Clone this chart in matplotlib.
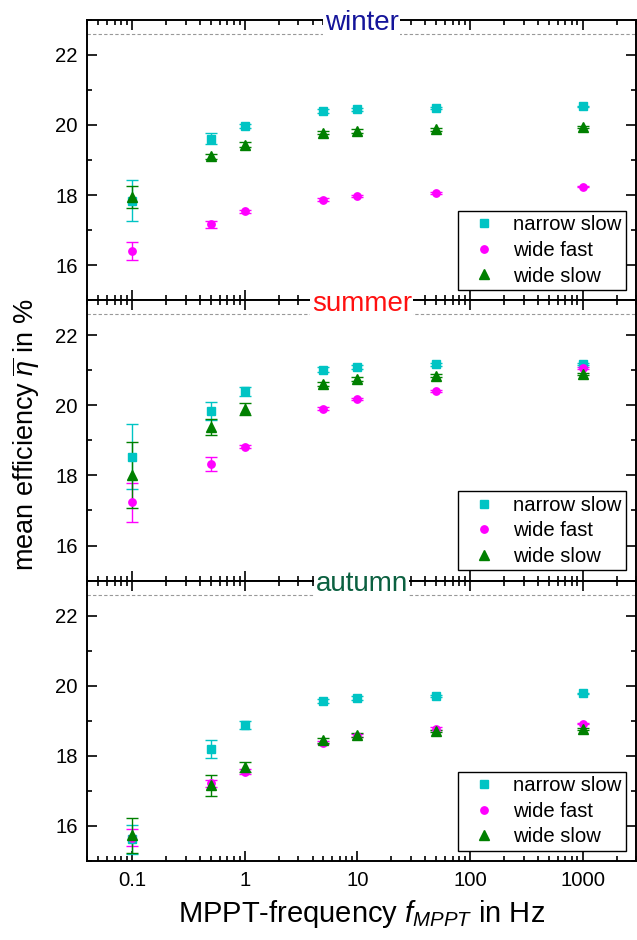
import matplotlib
matplotlib.use("Agg")
import matplotlib.pyplot as plt
from matplotlib.ticker import LogLocator, FixedLocator, NullFormatter
from matplotlib.lines import Line2D

plt.rcParams['font.family'] = ['Liberation Sans', 'DejaVu Sans']
plt.rcParams['mathtext.fontset'] = 'custom'
plt.rcParams['mathtext.rm'] = 'Liberation Sans'
plt.rcParams['mathtext.it'] = 'Liberation Sans:italic'

# MPPT frequencies in Hz
freq = [0.1, 0.5, 1, 5, 10, 50, 1000]

seasons = ["winter", "summer", "autumn"]
season_colors = ["#14149a", "#ff1010", "#0b6040"]

# mean efficiency in % and its error, per season
winter_narrow_slow = [17.84, 19.61, 19.96, 20.39, 20.45, 20.48, 20.53]
winter_narrow_slow_err = [0.58, 0.15, 0.06, 0.05, 0.04, 0.04, 0.02]
winter_wide_fast = [16.41, 17.16, 17.53, 17.87, 17.97, 18.07, 18.24]
winter_wide_fast_err = [0.26, 0.10, 0.05, 0.04, 0.03, 0.03, 0.02]
winter_wide_slow = [17.94, 19.11, 19.44, 19.78, 19.83, 19.88, 19.94]
winter_wide_slow_err = [0.31, 0.07, 0.06, 0.05, 0.05, 0.04, 0.02]

summer_narrow_slow = [18.53, 19.84, 20.40, 21.02, 21.10, 21.17, 21.19]
summer_narrow_slow_err = [0.93, 0.25, 0.13, 0.06, 0.06, 0.05, 0.03]
summer_wide_fast = [17.23, 18.33, 18.82, 19.90, 20.18, 20.41, 21.06]
summer_wide_fast_err = [0.56, 0.21, 0.04, 0.04, 0.04, 0.04, 0.02]
summer_wide_slow = [18.00, 19.38, 19.89, 20.61, 20.75, 20.85, 20.90]
summer_wide_slow_err = [0.94, 0.24, 0.17, 0.06, 0.05, 0.04, 0.03]

autumn_narrow_slow = [15.62, 18.20, 18.88, 19.56, 19.65, 19.71, 19.78]
autumn_narrow_slow_err = [0.41, 0.25, 0.12, 0.05, 0.05, 0.04, 0.02]
autumn_wide_fast = [15.67, 17.22, 17.55, 18.38, 18.58, 18.78, 18.92]
autumn_wide_fast_err = [0.25, 0.10, 0.07, 0.05, 0.04, 0.04, 0.02]
autumn_wide_slow = [15.73, 17.16, 17.68, 18.44, 18.60, 18.71, 18.77]
autumn_wide_slow_err = [0.50, 0.30, 0.15, 0.06, 0.05, 0.04, 0.02]

series_names = ["narrow slow", "wide fast", "wide slow"]
series_colors = ["#00c4c4", "#ff00ff", "#008000"]
series_markers = ["s", "o", "^"]
marker_sizes = [5.3, 5.3, 7.0]

season_data = [
    [(winter_narrow_slow, winter_narrow_slow_err), (winter_wide_fast, winter_wide_fast_err),
     (winter_wide_slow, winter_wide_slow_err)],
    [(summer_narrow_slow, summer_narrow_slow_err), (summer_wide_fast, summer_wide_fast_err),
     (summer_wide_slow, summer_wide_slow_err)],
    [(autumn_narrow_slow, autumn_narrow_slow_err), (autumn_wide_fast, autumn_wide_fast_err),
     (autumn_wide_slow, autumn_wide_slow_err)],
]

ref_level = 22.6

fig, axes = plt.subplots(3, 1, figsize=(6.37, 9.4), dpi=100, sharex=True)
fig.subplots_adjust(left=0.137, right=0.999, top=0.979, bottom=0.084, hspace=0)

for i, ax in enumerate(axes):
    for (vals, errs), name, col, mk, ms in zip(season_data[i], series_names, series_colors,
                                              series_markers, marker_sizes):
        ax.errorbar(freq, vals, yerr=errs, fmt=mk, color=col, ecolor=col,
                    markersize=ms, elinewidth=1.0,
                    capsize=4, capthick=1.0, label=name, zorder=3)

    ax.axhline(ref_level, color="#999999", lw=0.8, ls=(0, (3, 2)), zorder=1)
    ax.text(0.5, 0.962, seasons[i], transform=ax.transAxes, ha="center", va="baseline",
            fontsize=20, color=season_colors[i], zorder=10,
            bbox=dict(facecolor="white", edgecolor="none", pad=1.0))

    ax.set_xscale("log")
    ax.set_xlim(0.04, 3000)
    ax.set_ylim(15, 23)
    ax.yaxis.set_major_locator(FixedLocator([16, 18, 20, 22]))
    ax.yaxis.set_minor_locator(FixedLocator([15, 17, 19, 21, 23]))
    ax.xaxis.set_major_locator(LogLocator(base=10, numticks=10))
    ax.xaxis.set_minor_locator(LogLocator(base=10, subs=range(2, 10), numticks=20))
    ax.xaxis.set_minor_formatter(NullFormatter())

    ax.tick_params(which="both", direction="in", top=True, right=True, width=1.2,
                   labelsize=14.6, pad=7)
    ax.tick_params(which="major", length=7.5)
    ax.tick_params(which="minor", length=3.8)
    for sp in ax.spines.values():
        sp.set_linewidth(1.4)

    handles = [Line2D([], [], ls="none", marker=mk, color=col, markersize=ms)
               for col, mk, ms in zip(series_colors, series_markers, marker_sizes)]
    leg = ax.legend(handles, series_names, loc="lower right", fontsize=14.6,
                    frameon=True, fancybox=False, edgecolor="black", framealpha=1,
                    handlelength=2.1, handletextpad=0.4, borderpad=0.22,
                    labelspacing=0.33, borderaxespad=0.5)
    leg.get_frame().set_linewidth(1.0)

axes[-1].set_xticks([0.1, 1, 10, 100, 1000])
axes[-1].set_xticklabels(["0.1", "1", "10", "100", "1000"])
axes[-1].set_xlabel(r"MPPT-frequency $f_{MPPT}$ in Hz", fontsize=21, labelpad=6)
fig.text(0.041, 0.538, r"mean efficiency $\overline{\eta}$ in %", rotation=90,
         ha="center", va="center", fontsize=19.5)

fig.savefig("out.png", dpi=100)
